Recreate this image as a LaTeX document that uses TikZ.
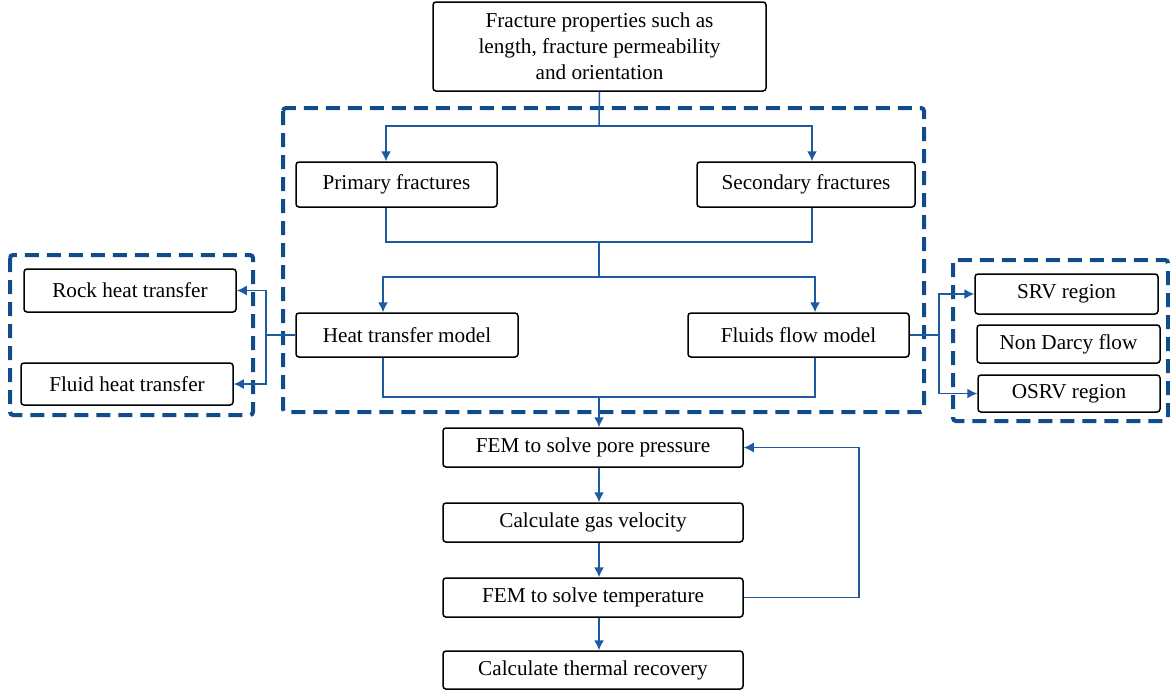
\documentclass[tikz,border=0pt]{standalone}
\usepackage{fontspec}
\setmainfont{Liberation Serif}
\usetikzlibrary{arrows.meta,positioning}

\definecolor{dashblue}{RGB}{16,76,140}
\definecolor{linkblue}{RGB}{30,90,160}

\tikzset{
  box/.style={draw=black, line width=0.75pt, rounded corners=1.5pt, inner sep=0pt,
    align=center, font=\fontsize{10.6}{13}\selectfont},
  dashbox/.style={draw=dashblue, line width=2pt, dash pattern=on 7pt off 4pt, rounded corners=1.5pt},
  link/.style={draw=linkblue, line width=0.75pt},
  arrow/.style={link, -{Latex[length=5pt,width=5pt]}}
}

\begin{document}
\begin{tikzpicture}[x=0.5pt, y=-0.5pt]
  \useasboundingbox (0,0) rectangle (1170,691);

  % Dashed groups
  \draw[dashbox] (283,108) rectangle (924,412);
  \draw[dashbox] (10,255) rectangle (253,415);
  \draw[dashbox] (953,260) rectangle (1168,421);

  % Boxes
  \node[box, minimum width=166.5pt, minimum height=44.5pt] (top) at (599.5,46.5)
    {Fracture properties such as\\length, fracture permeability\\and orientation};
  \node[box, minimum width=100.5pt, minimum height=22.5pt] (prim) at (396.5,184.5) {Primary fractures};
  \node[box, minimum width=109pt, minimum height=22.5pt] (sec) at (806,184.5) {Secondary fractures};
  \node[box, minimum width=111pt, minimum height=22pt] (heat) at (407,335) {Heat transfer model};
  \node[box, minimum width=110.5pt, minimum height=22pt] (flow) at (798.5,335) {Fluids flow model};
  \node[box, minimum width=106pt, minimum height=21.5pt] (rock) at (130,290.5) {Rock heat transfer};
  \node[box, minimum width=106pt, minimum height=21pt] (fluid) at (127,384) {Fluid heat transfer};
  \node[box, minimum width=91.5pt, minimum height=20pt] (srv) at (1066.5,294) {SRV region};
  \node[box, minimum width=91.5pt, minimum height=19pt] (darcy) at (1068.5,344) {Non Darcy flow};
  \node[box, minimum width=91pt, minimum height=18.5pt] (osrv) at (1069,393.5) {OSRV region};
  \node[box, minimum width=150pt, minimum height=19.5pt] (pore) at (593,447.5) {FEM to solve pore pressure};
  \node[box, minimum width=150pt, minimum height=19.5pt] (gas) at (593,522.5) {Calculate gas velocity};
  \node[box, minimum width=150pt, minimum height=19.5pt] (temp) at (593,597.5) {FEM to solve temperature};
  \node[box, minimum width=150pt, minimum height=19pt] (recov) at (593,670) {Calculate thermal recovery};

  % Split points
  \coordinate (sA) at (599,126);
  \coordinate (sB) at (599,242);
  \coordinate (sC) at (599,277);
  \coordinate (sD) at (599,397);
  \coordinate (sL) at (266,335);
  \coordinate (sR) at (939,335);

  % Fracture branches
  \draw[link] (top.south) -- (sA);
  \draw[arrow] (sA) -| ([xshift=-5.25pt]prim.north);
  \draw[arrow] (sA) -| ([xshift=3pt]sec.north);
  \draw[link] ([xshift=-5.25pt]prim.south) |- (sB);
  \draw[link] ([xshift=3pt]sec.south) |- (sB);

  % Model branches
  \draw[link] (sB) -- (sC);
  \draw[arrow] (sC) -| ([xshift=-12pt]heat.north);
  \draw[arrow] (sC) -| ([xshift=8.25pt]flow.north);
  \draw[link] ([xshift=-12pt]heat.south) |- (sD);
  \draw[link] ([xshift=8.25pt]flow.south) |- (sD);
  \draw[arrow] (sD) -- ([xshift=3pt]pore.north);

  % Side groups
  \draw[link] (heat.west) -- (sL);
  \draw[arrow] (sL) |- (rock.east);
  \draw[arrow] (sL) |- (fluid.east);
  \draw[link] (flow.east) -- (sR);
  \draw[arrow] (sR) |- (srv.west);
  \draw[arrow] (sR) |- (osrv.west);

  % Solver loop
  \draw[arrow] ([xshift=3pt]pore.south) -- ([xshift=3pt]gas.north);
  \draw[arrow] ([xshift=3pt]gas.south) -- ([xshift=3pt]temp.north);
  \draw[arrow] ([xshift=3pt]temp.south) -- ([xshift=3pt]recov.north);
  \draw[arrow] (temp.east) -- ++(57.5pt,0) |- (pore.east);

\end{tikzpicture}
\end{document}
